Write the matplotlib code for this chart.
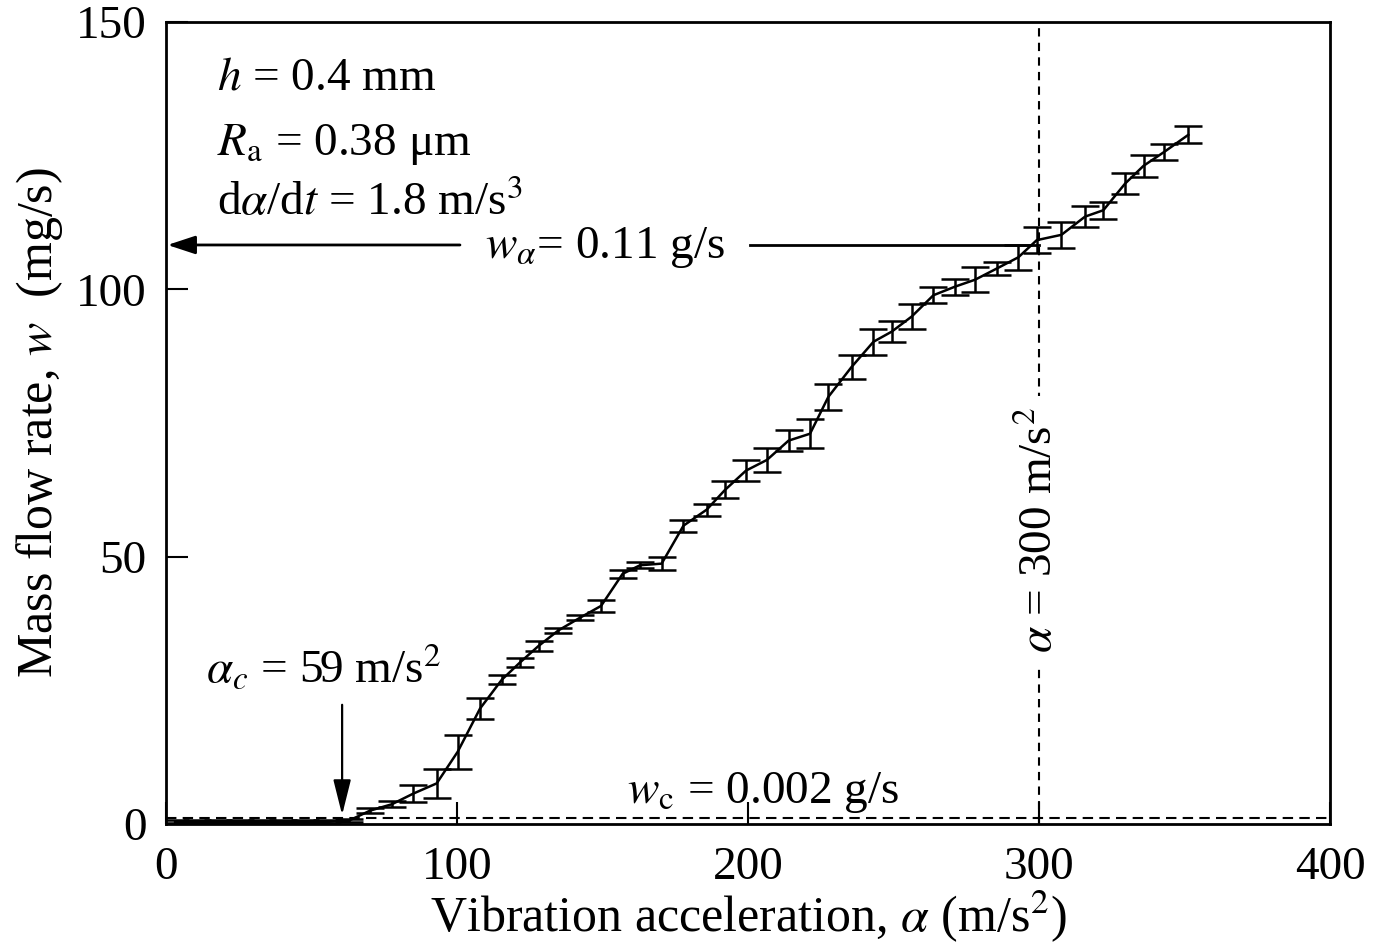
import matplotlib.pyplot as plt
import numpy as np
plt.switch_backend('agg')

plt.rcParams['font.family'] = ['Liberation Serif', 'DejaVu Serif']
plt.rcParams['mathtext.fontset'] = 'stix'
plt.rcParams['font.size'] = 34

# vibration acceleration (m/s^2)
accel = [3.1, 10.5, 18.0, 25.4, 32.9, 40.3, 47.8, 55.2, 62.7,
         70.1, 77.6, 85.0, 93.0, 100.2, 107.9, 115.4, 121.6, 128.0, 134.8,
         142.3, 149.5, 156.9, 162.9, 170.3, 177.8, 185.8, 192.1, 199.3, 206.5,
         213.9, 221.3, 227.6, 235.6, 243.1, 249.4, 256.2, 263.7, 271.1, 278.0,
         285.5, 292.9, 299.2, 307.7, 315.8, 322.1, 329.6, 335.9, 343.0, 351.3]
# mass flow rate (mg/s)
flow = [0.4, 0.4, 0.4, 0.4, 0.4, 0.4, 0.4, 0.4, 0.6,
        2.5, 3.7, 5.7, 7.6, 13.5, 21.6, 27.0, 30.2, 33.3, 36.2,
        38.6, 40.8, 46.8, 48.4, 48.7, 55.8, 58.8, 62.5, 66.1, 68.1,
        71.7, 73.0, 79.9, 85.5, 90.2, 92.1, 94.9, 98.9, 100.5, 101.8,
        103.9, 106.0, 109.2, 110.2, 113.6, 114.8, 119.8, 123.1, 125.7, 128.9]
# error (mg/s)
flow_err = [0.3, 0.3, 0.3, 0.3, 0.3, 0.3, 0.3, 0.3, 0.3,
            0.5, 0.6, 1.55, 2.7, 3.2, 2.0, 0.85, 0.9, 0.9, 0.5,
            0.4, 1.15, 0.8, 0.6, 1.2, 1.1, 1.1, 1.6, 1.9, 2.3,
            2.0, 2.7, 2.4, 2.3, 2.4, 2.0, 2.4, 1.5, 1.5, 2.3,
            1.2, 2.3, 2.4, 2.4, 2.0, 1.6, 2.0, 2.1, 1.55, 1.6]

alpha_c = 59      # critical acceleration
w_c = 1.2         # critical flow line (plotted level)
alpha_ref = 300
w_alpha = 108.3

fig = plt.figure(figsize=(13.77, 9.49), dpi=100)
ax = fig.add_axes([0.1206, 0.1317, 0.8453, 0.8451])

ax.errorbar(accel, flow, yerr=flow_err, color='black', lw=1.8,
            capsize=10, capthick=1.8, elinewidth=1.8)

ax.axhline(w_c, color='black', lw=1.5, dashes=(5, 3))
ax.axvline(alpha_ref, color='black', lw=1.5, dashes=(4, 3))

ax.set_xlim(0, 400)
ax.set_ylim(0, 150)
ax.set_xticks([0, 100, 200, 300, 400])
ax.set_yticks([0, 50, 100, 150])
ax.tick_params(axis='both', direction='in', length=16, width=1.5)
ax.tick_params(axis='x', pad=16)
ax.tick_params(axis='y', pad=14)
for s in ax.spines.values():
    s.set_linewidth(2)

ax.set_xlabel(r'Vibration acceleration, $\alpha$ (m/s$^2$)', fontsize=36, labelpad=0)
ax.set_ylabel(r'Mass flow rate, $w$  (mg/s)', fontsize=36, labelpad=8)

# condition text
ax.text(17.5, 137.3, r'$h$ = 0.4 mm')
ax.text(17.5, 125.1, r'$R_{\rm a}$ = 0.38 μm')
ax.text(17.5, 113.9, r'd$\alpha$/d$t$ = 1.8 m/s$^3$')

# w_alpha arrow and line
ax.annotate('', xy=(0.5, w_alpha), xytext=(101, w_alpha),
            arrowprops=dict(arrowstyle='-|>,head_length=0.85,head_width=0.28',
                            color='black', lw=2, shrinkA=0, shrinkB=0,
                            mutation_scale=20))
ax.plot([200.7, alpha_ref], [w_alpha, w_alpha], color='black', lw=2)
ax.text(109.6, 105.8, r'$w_\alpha$= 0.11 g/s')

# alpha_c arrow
ax.annotate('', xy=(60.5, 1.7), xytext=(60.5, 22.3),
            arrowprops=dict(arrowstyle='-|>,head_length=1.08,head_width=0.27',
                            color='black', lw=1.6, shrinkA=0, shrinkB=0,
                            mutation_scale=20))
ax.text(13.7, 26.4, r'$\alpha_c$ = 59 m/s$^2$')

ax.text(158.4, 4.0, r'$w_{\rm c}$ = 0.002 g/s')

ax.text(300.3, 55.0, r'$\alpha$ = 300 m/s$^2$', rotation=90, ha='center', va='center',
        bbox=dict(facecolor='white', edgecolor='none', pad=8))

plt.savefig('out.png', dpi=100)
